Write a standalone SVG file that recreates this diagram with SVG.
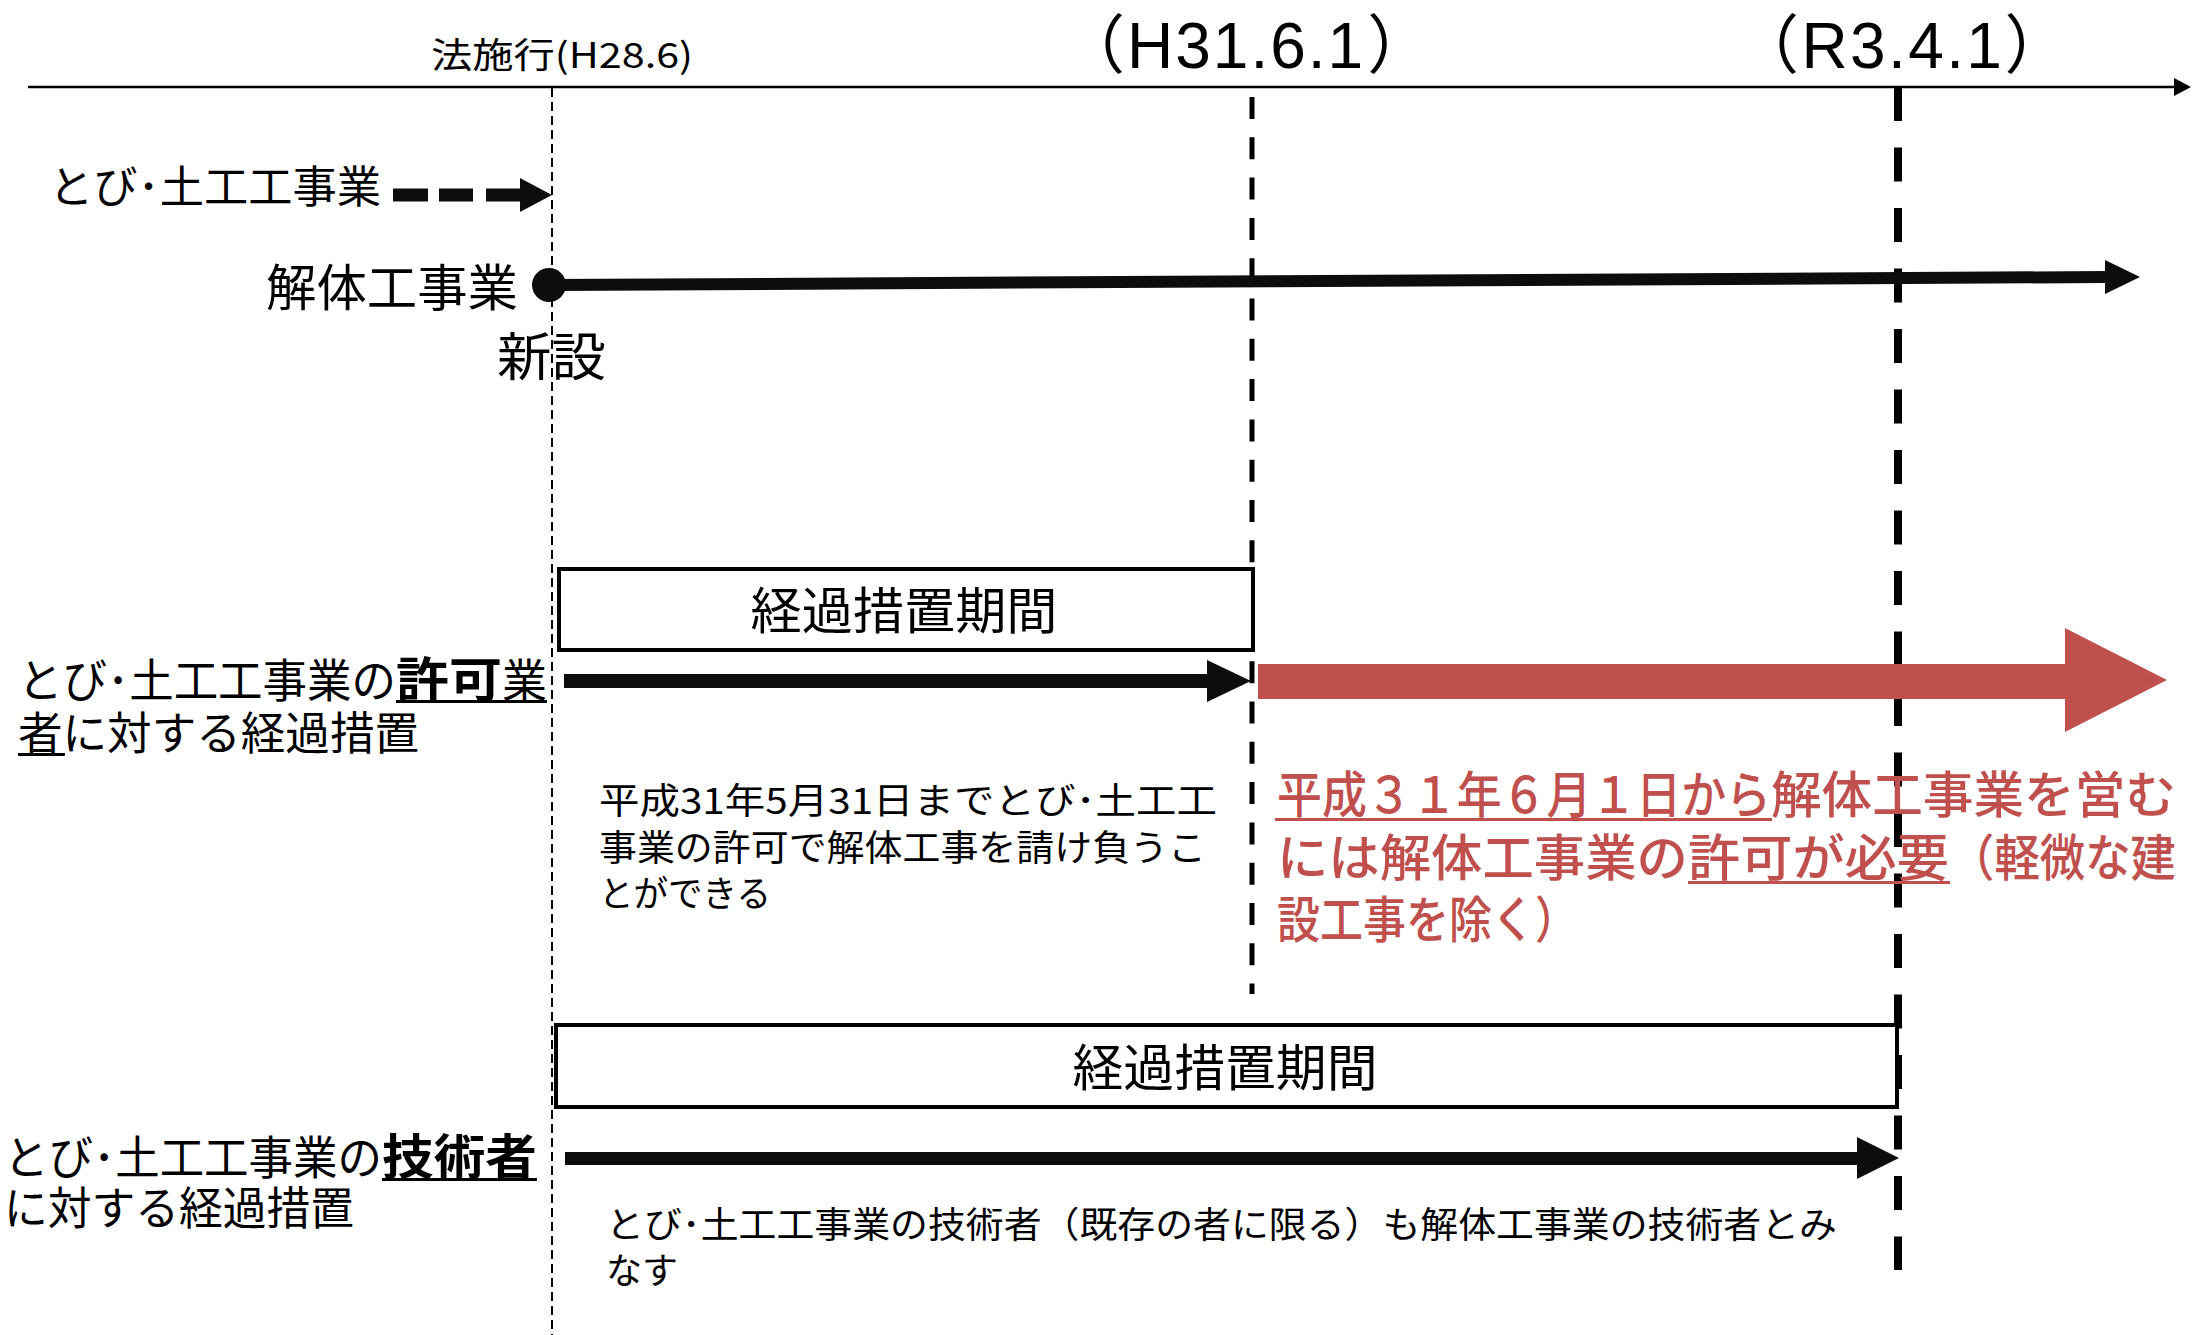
<svg xmlns="http://www.w3.org/2000/svg" width="2194" height="1335" viewBox="0 0 2194 1335">
<style>
  .jp { font-family: "Noto Sans CJK JP", "Noto Sans", sans-serif; fill: #000; }
  .lat { font-family: "Liberation Sans", "Noto Sans CJK JP", sans-serif; fill: #000; }
  .red { fill: #C0504D; }
  .med { font-weight: 500; }
  .b { font-weight: bold; }
  .box { fill: #fff; stroke: #000; stroke-width: 4; }
  .blk { fill: #0d0d0d; }
</style>
<rect width="2194" height="1335" fill="#fff"/>

<g id="timeline">
  <line x1="28" y1="87" x2="2176" y2="87" stroke="#000" stroke-width="2.5"/>
  <polygon points="2174,78 2191,87 2174,96" fill="#000"/>
  <text class="jp" x="431" y="68" font-size="35" textLength="262" lengthAdjust="spacingAndGlyphs">法施行(H28.6)</text>
  <text class="lat" x="1061" y="68" font-size="64" letter-spacing="2">（H31.6.1<tspan dx="2">）</tspan></text>
  <text class="lat" x="1735" y="68" font-size="64" letter-spacing="2.4">（R3.4.1<tspan dx="0">）</tspan></text>
</g>

<g id="guides">
  <line x1="552" y1="88" x2="552" y2="1335" stroke="#000" stroke-width="2" stroke-dasharray="9 5"/>
  <line x1="1252" y1="97" x2="1252" y2="994" stroke="#000" stroke-width="5" stroke-dasharray="22 18.3"/>
  <line x1="1898" y1="87" x2="1898" y2="1270" stroke="#000" stroke-width="8" stroke-dasharray="34 26.5"/>
</g>

<g id="tobi-row">
  <text class="jp" x="49" y="203" font-size="44" textLength="332" lengthAdjust="spacingAndGlyphs">とび･土工工事業</text>
</g>

<g id="kaitai-row">
  <text class="jp" x="266" y="306" font-size="50" textLength="252" lengthAdjust="spacingAndGlyphs">解体工事業</text>
  <text class="jp" x="497" y="376" font-size="52" textLength="109" lengthAdjust="spacingAndGlyphs">新設</text>
</g>

<g id="box1">
  <rect class="box" x="559" y="569" width="694" height="81"/>
  <text class="jp" x="904" y="629" font-size="50" text-anchor="middle" textLength="307" lengthAdjust="spacingAndGlyphs">経過措置期間</text>
</g>

<g id="box2">
  <rect class="box" x="556" y="1025" width="1341" height="82"/>
  <text class="jp" x="1225" y="1086" font-size="50" text-anchor="middle" textLength="305" lengthAdjust="spacingAndGlyphs">経過措置期間</text>
</g>

<g id="label-kyoka">
  <text class="jp" x="18" y="697" font-size="46" textLength="378" lengthAdjust="spacingAndGlyphs">とび･土工工事業の</text>
  <text class="jp b" x="396" y="697" font-size="48" textLength="106" lengthAdjust="spacingAndGlyphs">許可</text>
  <text class="jp" x="502" y="697" font-size="46" textLength="45" lengthAdjust="spacingAndGlyphs">業</text>
  <rect x="396" y="700" width="151" height="3" fill="#000"/>
  <text class="jp" x="18" y="750" font-size="45" textLength="401" lengthAdjust="spacingAndGlyphs">者に対する経過措置</text>
  <rect x="18" y="753" width="47" height="3" fill="#000"/>
</g>

<g id="desc-kyoka">
  <text class="jp" x="599" y="814" font-size="36" textLength="618" lengthAdjust="spacingAndGlyphs">平成31年5月31日までとび･土工工</text>
  <text class="jp" x="599" y="861" font-size="36" textLength="607" lengthAdjust="spacingAndGlyphs">事業の許可で解体工事を請け負うこ</text>
  <text class="jp" x="599" y="907" font-size="36" textLength="172" lengthAdjust="spacingAndGlyphs">とができる</text>
</g>

<g id="red-note">
  <text class="jp red med" x="1277" y="813" font-size="50" textLength="494" lengthAdjust="spacingAndGlyphs">平成３１年６月１日から</text>
  <text class="jp red med" x="1771" y="813" font-size="50" textLength="405" lengthAdjust="spacingAndGlyphs">解体工事業を営む</text>
  <rect x="1275" y="818" width="497" height="3" class="red"/>
  <text class="jp red med" x="1277" y="876" font-size="50" textLength="411" lengthAdjust="spacingAndGlyphs">には解体工事業の</text>
  <text class="jp red med" x="1688" y="876" font-size="50" textLength="261" lengthAdjust="spacingAndGlyphs">許可が必要</text>
  <text class="jp red med" x="1949" y="876" font-size="50" textLength="227" lengthAdjust="spacingAndGlyphs">（軽微な建</text>
  <rect x="1688" y="881" width="262" height="3" class="red"/>
  <text class="jp red med" x="1277" y="938" font-size="50" textLength="301" lengthAdjust="spacingAndGlyphs">設工事を除く）</text>
</g>

<g id="label-gijutsu">
  <text class="jp" x="4" y="1174" font-size="46" textLength="378" lengthAdjust="spacingAndGlyphs">とび･土工工事業の</text>
  <text class="jp b" x="382" y="1174" font-size="48" textLength="155" lengthAdjust="spacingAndGlyphs">技術者</text>
  <rect x="382" y="1178" width="155" height="3" fill="#000"/>
  <text class="jp" x="4" y="1225" font-size="45" textLength="350" lengthAdjust="spacingAndGlyphs">に対する経過措置</text>
</g>

<g id="desc-gijutsu">
  <text class="jp" x="606" y="1238" font-size="36" textLength="1231" lengthAdjust="spacingAndGlyphs">とび･土工工事業の技術者（既存の者に限る）も解体工事業の技術者とみ</text>
  <text class="jp" x="606" y="1284" font-size="36" textLength="72" lengthAdjust="spacingAndGlyphs">なす</text>
</g>

<g id="connectors">
  <g id="tobi-dashed-arrow" class="blk">
    <rect x="393" y="188.5" width="35" height="13"/>
    <rect x="439" y="188.5" width="34" height="13"/>
    <rect x="486" y="188.5" width="35" height="13"/>
    <polygon points="520,178 552,195 520,212"/>
  </g>
  <g id="kaitai-arrow" class="blk">
    <line x1="549" y1="285" x2="2107" y2="277" stroke="#0d0d0d" stroke-width="12"/>
    <polygon points="2105,260 2140,277 2105,294"/>
    <circle cx="549" cy="285" r="17"/>
  </g>
  <polygon id="kyoka-arrow" class="blk" points="564,674 1207,674 1207,660 1251,681 1207,702 1207,688 564,688"/>
  <polygon id="kaitai-required-arrow" class="red" points="1258,664 2065,664 2065,628 2167,680 2065,732 2065,699 1258,699"/>
  <polygon id="gijutsu-arrow" class="blk" points="565,1152 1857,1152 1857,1137 1899,1158 1857,1179 1857,1165 565,1165"/>
</g>
</svg>
